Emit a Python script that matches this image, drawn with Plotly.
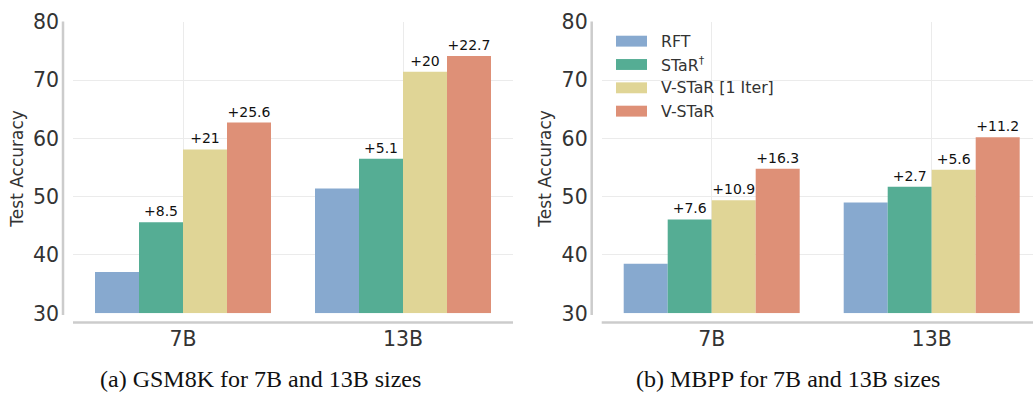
import plotly.graph_objects as go

categories = ["7B", "13B"]
series = ["RFT", "STaR<sup>†</sup>", "V-STaR [1 Iter]", "V-STaR"]
colors = ["#87a9cf", "#55ad94", "#e0d596", "#de9077"]

gsm8k = {
    "RFT": [37.1, 51.4],
    "STaR<sup>†</sup>": [45.6, 56.5],
    "V-STaR [1 Iter]": [58.1, 71.4],
    "V-STaR": [62.7, 74.1],
}
gsm8k_labels = {
    "RFT": None,
    "STaR<sup>†</sup>": ["+8.5", "+5.1"],
    "V-STaR [1 Iter]": ["+21", "+20"],
    "V-STaR": ["+25.6", "+22.7"],
}
mbpp = {
    "RFT": [38.5, 49.0],
    "STaR<sup>†</sup>": [46.1, 51.7],
    "V-STaR [1 Iter]": [49.4, 54.6],
    "V-STaR": [54.8, 60.2],
}
mbpp_labels = {
    "RFT": None,
    "STaR<sup>†</sup>": ["+7.6", "+2.7"],
    "V-STaR [1 Iter]": ["+10.9", "+5.6"],
    "V-STaR": ["+16.3", "+11.2"],
}
yticks = [30, 40, 50, 60, 70, 80]
captions = ["(a) GSM8K for 7B and 13B sizes", "(b) MBPP for 7B and 13B sizes"]

W, H = 1033, 405
def px(x):
    return x / W
def py(y):
    return 1 - y / H

fig = go.Figure()
for name, col in zip(series, colors):
    for data, labels, xa, ya in [(gsm8k, gsm8k_labels, "x", "y"), (mbpp, mbpp_labels, "x2", "y2")]:
        kw = {}
        if labels[name] is not None:
            kw = dict(text=labels[name], textposition="outside", constraintext="none",
                      outsidetextfont=dict(family="DejaVu Sans", size=14, color="#111111"))
        fig.add_trace(go.Bar(
            x=[0, 1], y=[v - 30 for v in data[name]], base=30,
            name=name, marker=dict(color=col, line=dict(width=0)),
            cliponaxis=False, showlegend=False, xaxis=xa, yaxis=ya,
            offsetgroup=name, **kw,
        ))

axis_font = dict(family="DejaVu Sans", size=20.5, color="#333333")
grid_col = "#ebebeb"
ydom = [py(320.3), py(10.3)]
xcommon = dict(tickvals=[0, 1], ticktext=categories, showgrid=True, gridcolor=grid_col,
               gridwidth=1, zeroline=False, showline=False, ticks="", tickfont=axis_font,
               ticklabelstandoff=11, ticklabeloverflow="allow")
ycommon = dict(range=[30, 80], tickvals=yticks, showgrid=True, gridcolor=grid_col,
               gridwidth=1, zeroline=False, showline=False, ticks="", tickfont=axis_font,
               domain=ydom, ticklabelstandoff=13, ticklabeloverflow="allow")

fig.update_layout(
    width=W, height=H, margin=dict(l=0, r=0, t=0, b=0),
    paper_bgcolor="white", plot_bgcolor="white",
    barmode="group", bargap=0.2, bargroupgap=0,
    xaxis=dict(domain=[px(73), px(513)], range=[-0.5, 1.5], anchor="y", **xcommon),
    yaxis=dict(anchor="x", **ycommon),
    xaxis2=dict(domain=[px(601.7), 1.0], range=[-0.5, -0.5 + (W - 601.7) / 220.0], anchor="y2", **xcommon),
    yaxis2=dict(anchor="x2", **ycommon),
    font=dict(family="DejaVu Sans"),
)

spine = dict(color="#cccccc", width=2.5)
shapes = []
for xl, x0, x1 in [(63, 73, 513), (591.7, 601.7, W)]:
    shapes.append(dict(type="line", xref="paper", yref="paper", x0=px(xl), x1=px(xl),
                       y0=py(322), y1=py(10), line=spine))
    shapes.append(dict(type="line", xref="paper", yref="paper", x0=px(x0), x1=px(x1),
                       y0=py(330), y1=py(330), line=spine))

annotations = []
for xc in [17, 545]:
    annotations.append(dict(text="Test Accuracy", x=px(xc), y=py(166.5), xref="paper", yref="paper",
                            textangle=-90, showarrow=False, xanchor="center", yanchor="middle",
                            font=dict(family="DejaVu Sans", size=17, color="#333333")))
for cap, xc in zip(captions, [260, 788]):
    annotations.append(dict(text=cap, x=px(xc), y=py(390), xref="paper", yref="paper",
                            showarrow=False, xanchor="center", yanchor="middle",
                            font=dict(family="Liberation Serif", size=24, color="#111111")))

leg_names = ["RFT", "STaR<sup>†</sup>", "V-STaR [1 Iter]", "V-STaR"]
for i, (nm, col) in enumerate(zip(leg_names, colors)):
    yc = 31 + i * 24.8
    shapes.append(dict(type="rect", xref="paper", yref="paper", x0=px(616), x1=px(647),
                       y0=py(yc + 5.8), y1=py(yc - 5.8), fillcolor=col, line=dict(width=0)))
    annotations.append(dict(text=nm, x=px(659), y=py(yc), xref="paper", yref="paper",
                            showarrow=False, xanchor="left", yanchor="middle",
                            font=dict(family="DejaVu Sans", size=15.8, color="#333333")))

fig.update_layout(shapes=shapes, annotations=annotations)
fig.write_html("out.html")
